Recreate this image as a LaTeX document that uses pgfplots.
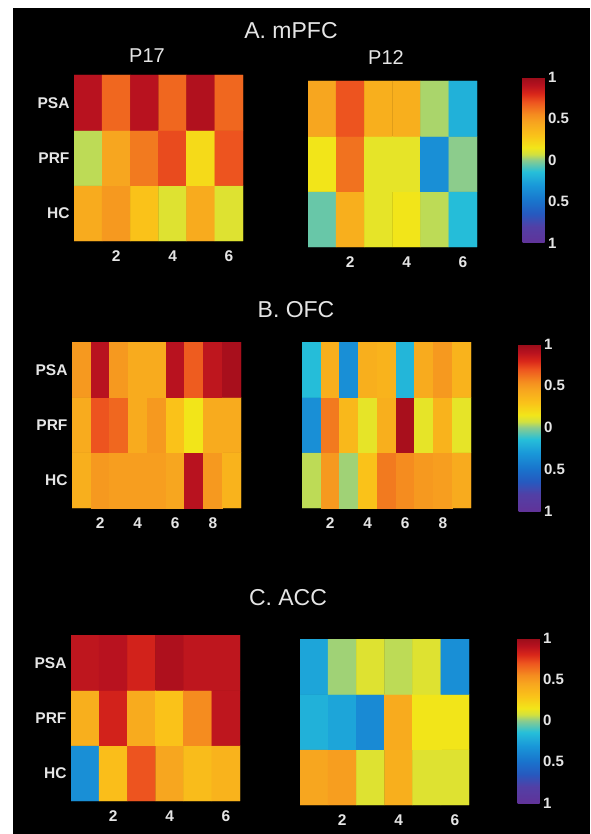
\documentclass[border=0pt]{standalone}
\usepackage{fontspec}
\setmainfont{Liberation Sans}
\usepackage{pgfplots}
\pgfplotsset{compat=1.18}
\definecolor{txt}{rgb}{0.9,0.9,0.9}
\pgfplotsset{
  colormap={jetlike}{
    rgb(0pt)=(0.38,0.2,0.6);
    rgb(20pt)=(0.32,0.25,0.65);
    rgb(35pt)=(0.15,0.35,0.75);
    rgb(50pt)=(0.1,0.45,0.8);
    rgb(70pt)=(0.1,0.6,0.85);
    rgb(86pt)=(0.15,0.75,0.85);
    rgb(100pt)=(0.55,0.8,0.55);
    rgb(107pt)=(0.82,0.88,0.25);
    rgb(115pt)=(0.95,0.9,0.1);
    rgb(130pt)=(0.98,0.76,0.1);
    rgb(145pt)=(0.97,0.65,0.12);
    rgb(155pt)=(0.96,0.55,0.12);
    rgb(170pt)=(0.93,0.33,0.12);
    rgb(180pt)=(0.85,0.15,0.1);
    rgb(190pt)=(0.72,0.07,0.12);
    rgb(200pt)=(0.6,0.05,0.1)
  },
  hm/.style={
    scale only axis, width=169pt, height=166pt, anchor=south west,
    axis line style={draw=none}, tick style={draw=none},
    xmin=0.5, ymin=0.5, ymax=3.5, enlargelimits=false,
    ytick={1,2,3}, yticklabels={HC,PRF,PSA},
    tick label style={txt, font=\fontsize{15.5}{17}\selectfont\bfseries},
    /pgf/number format/assume math mode=true,
    colormap name=jetlike, point meta min=-1, point meta max=1,
    xticklabel style={yshift=-6pt},
    yticklabel style={xshift=-1pt},
  },
  hmr/.style={hm, ytick=\empty,
    colorbar,
    colorbar/width=22pt,
  },
  cb/.style n args={3}{colorbar style={
      scale only axis, width=22pt, height=#3,
      xmin=0, xmax=1, ymin=-1, ymax=1,
      at={(parent axis.north east)}, anchor=north west,
      xshift=#1, yshift=#2,
      axis line style={draw=none}, tick style={draw=none},
      ytick={-1,-0.5,0,0.5,1}, yticklabels={1,0.5,0,0.5,1},
      yticklabel style={txt, font=\fontsize{15}{17}\selectfont\bfseries},
      yticklabel pos=right,
  }},
}
\begin{document}
\begin{tikzpicture}
\fill[white] (0pt,0pt) rectangle (590pt,-834pt);
\fill[black] (13pt,-8pt) rectangle (590pt,-834pt);

% ---------- A. mPFC ----------
\node[txt, font=\fontsize{23}{25}\selectfont] at (291pt,-31pt) {A. mPFC};
\node[txt, font=\fontsize{20}{22}\selectfont] at (147pt,-56pt) {P17};
\node[txt, font=\fontsize{20}{22}\selectfont] at (386pt,-58pt) {P12};

\begin{axis}[hm, at={(74pt,-241pt)}, xmax=6.5, xtick={2,4,6}]
\addplot[matrix plot*, mesh/cols=6, point meta=explicit] table[meta=c] {
x y c
1 1 0.42
2 1 0.50
3 1 0.30
4 1 0.10
5 1 0.42
6 1 0.10
1 2 0.05
2 2 0.45
3 2 0.60
4 2 0.72
5 2 0.20
6 2 0.70
1 3 0.90
2 3 0.65
3 3 0.90
4 3 0.65
5 3 0.92
6 3 0.65
};
\end{axis}

\begin{axis}[hmr, cb={37pt}{4pt}{166pt}, at={(308pt,-247pt)}, xmax=6.5, xtick={2,4,6}]
\addplot[matrix plot*, mesh/cols=6, point meta=explicit] table[meta=c] {
x y c
1 1 -0.05
2 1 0.40
3 1 0.12
4 1 0.15
5 1 0.05
6 1 -0.15
1 2 0.15
2 2 0.62
3 2 0.12
4 2 0.12
5 2 -0.35
6 2 0.00
1 3 0.45
2 3 0.70
3 3 0.40
4 3 0.40
5 3 0.03
6 3 -0.20
};
\end{axis}

% ---------- B. OFC ----------
\node[txt, font=\fontsize{23}{25}\selectfont] at (296pt,-310pt) {B. OFC};

\begin{axis}[hm, at={(72pt,-508pt)}, xmax=9.5, xtick={2,4,6,8}]
\addplot[matrix plot*, mesh/cols=9, point meta=explicit] table[meta=c] {
x y c
1 1 0.40
2 1 0.50
3 1 0.48
4 1 0.48
5 1 0.48
6 1 0.45
7 1 0.90
8 1 0.50
9 1 0.38
1 2 0.42
2 2 0.70
3 2 0.65
4 2 0.42
5 2 0.50
6 2 0.30
7 2 0.15
8 2 0.42
9 2 0.42
1 3 0.50
2 3 0.90
3 3 0.50
4 3 0.42
5 3 0.42
6 3 0.90
7 3 0.68
8 3 0.88
9 3 0.95
};
\end{axis}

\begin{axis}[hmr, cb={39pt}{-2pt}{167pt}, at={(302pt,-508pt)}, xmax=9.5, xtick={2,4,6,8}]
\addplot[matrix plot*, mesh/cols=9, point meta=explicit] table[meta=c] {
x y c
1 1 0.05
2 1 0.50
3 1 0.02
4 1 0.30
5 1 0.60
6 1 0.55
7 1 0.50
8 1 0.48
9 1 0.42
1 2 -0.35
2 2 0.60
3 2 0.35
4 2 0.12
5 2 0.40
6 2 0.95
7 2 0.12
8 2 0.38
9 2 0.12
1 3 -0.15
2 3 0.40
3 3 -0.35
4 3 0.40
5 3 0.38
6 3 -0.18
7 3 0.42
8 3 0.50
9 3 0.38
};
\end{axis}

% ---------- C. ACC ----------
\node[txt, font=\fontsize{23}{25}\selectfont] at (288pt,-598pt) {C. ACC};

\begin{axis}[hm, at={(71pt,-801pt)}, xmax=6.5, xtick={2,4,6}]
\addplot[matrix plot*, mesh/cols=6, point meta=explicit] table[meta=c] {
x y c
1 1 -0.35
2 1 0.32
3 1 0.70
4 1 0.45
5 1 0.33
6 1 0.38
1 2 0.40
2 2 0.82
3 2 0.42
4 2 0.30
5 2 0.55
6 2 0.88
1 3 0.88
2 3 0.90
3 3 0.82
4 3 0.93
5 3 0.88
6 3 0.88
};
\end{axis}

\begin{axis}[hmr, cb={40pt}{1pt}{165pt}, at={(300pt,-805pt)}, xmax=6.5, xtick={2,4,6}]
\addplot[matrix plot*, mesh/cols=6, point meta=explicit] table[meta=c] {
x y c
1 1 0.45
2 1 0.48
3 1 0.10
4 1 0.40
5 1 0.10
6 1 0.10
1 2 -0.20
2 2 -0.25
3 2 -0.38
4 2 0.42
5 2 0.15
6 2 0.15
1 3 -0.25
2 3 0.02
3 3 0.10
4 3 0.05
5 3 0.10
6 3 -0.35
};
\end{axis}
\end{tikzpicture}
\end{document}
